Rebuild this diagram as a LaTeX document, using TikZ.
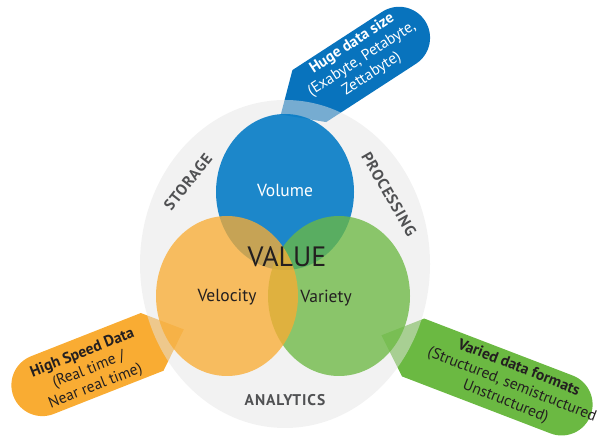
\documentclass[tikz,border=0pt]{standalone}
\usepackage{fontspec}
\setmainfont{PT Sans}
\newfontfamily\ringfont[LetterSpace=6]{PT Sans}
\usepackage{tikz}
\definecolor{volumeBlue}{RGB}{6, 124, 198}
\definecolor{calloutBlue}{RGB}{8, 115, 189}
\definecolor{velocityOrange}{RGB}{249, 172, 51}
\definecolor{varietyGreen}{RGB}{107, 185, 66}
\definecolor{ringGray}{RGB}{229, 229, 229}
\definecolor{labelGray}{RGB}{80, 81, 83}
\definecolor{darkText}{RGB}{35, 31, 32}
\tikzset{
    ring_disk/.style={
        fill=ringGray,
        fill opacity=0.5
    },
    v_disk/.style={
        fill opacity=0.77
    },
    ring_label/.style={
        text=labelGray,
        font=\ringfont\bfseries\fontsize{15.5}{15.5}\selectfont
    },
    v_label/.style={
        text=darkText,
        font=\fontsize{17.5}{17.5}\selectfont
    },
    callout_text/.style={
        align=center,
        inner sep=0pt,
        font=\fontsize{15.5}{18}\selectfont
    }
}
\newcommand{\calloutshape}[4]{%
    \fill[#1, shift={#2}, rotate=#3]
        (0,0) -- (34,31) -- (#4-31,31)
        arc[start angle=90, end angle=-90, radius=31]
        -- (34,-31) -- cycle;
}

\begin{document}
\begin{tikzpicture}[x=1pt, y=1pt]
    \useasboundingbox (0,0) rectangle (601,438);

    \calloutshape{calloutBlue}{(280.8,323.4)}{33}{172}
    \calloutshape{velocityOrange}{(183.8,108.6)}{201.5}{183}
    \calloutshape{varietyGreen}{(381.4,102.7)}{-21}{224}

    \fill[ring_disk] (285,174) ellipse [x radius=145, y radius=164];
    \fill[v_disk, volumeBlue, fill opacity=0.9] (285,246) ellipse [x radius=69, y radius=78];
    \fill[v_disk, varietyGreen] (339,142) ellipse [x radius=71, y radius=80];
    \fill[v_disk, velocityOrange] (227,142) ellipse [x radius=71, y radius=80];

    \node[v_label, text=white] (volume) at (285,248) {Volume};
    \node[v_label] (velocity) at (227,141) {Velocity};
    \node[v_label] (variety) at (326,140) {Variety};
    \node[text=darkText, font=\fontsize{28}{28}\selectfont] (value) at (287,181) {VALUE};

    \node[ring_label, rotate=52] (storage) at (188,256) {STORAGE};
    \node[ring_label, rotate=-60] (processing) at (389,244) {PROCESSING};
    \node[ring_label] (analytics) at (285,38) {ANALYTICS};

    \node[callout_text, text=white, rotate=33] (sizeNote) at (362,379)
        {\textbf{Huge data size}\\(Exabyte, Petabyte,\\Zettabyte)};
    \node[callout_text, text=darkText, rotate=21.5] (speedNote) at (89,68)
        {\textbf{High Speed Data}\\(Real time /\\Near real time)};
    \node[callout_text, text=darkText, rotate=-21.5] (formatNote) at (512,53)
        {\textbf{Varied data formats}\\(Structured, semistructured\\Unstructured)};
\end{tikzpicture}
\end{document}
